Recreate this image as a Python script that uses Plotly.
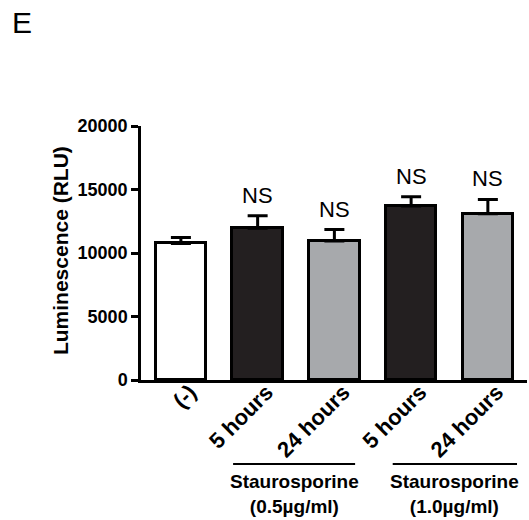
import plotly.graph_objects as go

# Luminescence readings per treatment (mean and upper SEM)
categories = ["(-)", "5 hours", "24 hours", "5 hours", "24 hours"]
means = [10750, 11950, 10950, 13700, 13100]
sem_upper = [480, 980, 900, 720, 1120]
bar_colors = ["#ffffff", "#231f20", "#a7a9ac", "#231f20", "#a7a9ac"]
sig_labels = ["", "NS", "NS", "NS", "NS"]
y_ticks = [0, 5000, 10000, 15000, 20000]

# Treatment groups spanning the bars underneath the axis
groups = [
    {"label": "Staurosporine<br>(0.5µg/ml)", "start": 0.68, "end": 2.27},
    {"label": "Staurosporine<br>(1.0µg/ml)", "start": 2.76, "end": 4.38},
]

FONT = "Liberation Sans, Arial, sans-serif"
xpos = list(range(len(categories)))

fig = go.Figure()
fig.add_trace(go.Bar(
    x=xpos,
    y=means,
    width=0.66,
    marker=dict(color=bar_colors, line=dict(color="#000000", width=3)),
    error_y=dict(type="data", symmetric=False, array=sem_upper,
                 arrayminus=[0] * len(means), color="#000000",
                 thickness=3, width=10),
    showlegend=False,
))

# significance labels above each error bar
for x, m, e, lab in zip(xpos, means, sem_upper, sig_labels):
    if lab:
        fig.add_annotation(x=x, y=m + e, text=lab, showarrow=False,
                           yanchor="bottom", yshift=6,
                           font=dict(family=FONT, size=22, color="#000000"))

# group brackets and labels
for g in groups:
    fig.add_shape(type="line", xref="x", yref="paper",
                  x0=g["start"], x1=g["end"], y0=-0.331, y1=-0.331,
                  line=dict(color="#000000", width=2))
    fig.add_annotation(x=(g["start"] + g["end"]) / 2, xref="x",
                       y=-0.352, yref="paper", yanchor="top",
                       text="<b>" + g["label"] + "</b>", showarrow=False,
                       font=dict(family=FONT, size=19, color="#000000"))

# y-axis title
fig.add_annotation(x=-0.207, xref="paper", y=0.508, yref="paper",
                   text="<b>Luminescence (RLU)</b>", textangle=-90,
                   showarrow=False, xanchor="center", yanchor="middle",
                   font=dict(family=FONT, size=21, color="#000000"))

# panel letter
fig.add_annotation(x=-0.308, xref="paper", y=1.409, yref="paper", text="E",
                   showarrow=False, xanchor="center", yanchor="middle",
                   font=dict(family=FONT, size=30, color="#000000"))

fig.update_layout(
    width=529, height=520,
    margin=dict(l=141, r=2, t=126, b=140),
    paper_bgcolor="#ffffff", plot_bgcolor="#ffffff",
    font=dict(family=FONT, color="#000000"),
    bargap=0,
)
fig.update_xaxes(
    range=[-0.52, 4.51], tickmode="array", tickvals=xpos,
    ticktext=["<b>" + c + "</b>" for c in categories],
    tickangle=-45, tickfont=dict(family=FONT, size=22, color="#000000"),
    ticklabelstandoff=-12, ticklabelshift=9,
    showline=True, linecolor="#000000", linewidth=2.5,
    ticks="", showgrid=False, zeroline=False,
)
fig.update_yaxes(
    range=[0, 20000], tickmode="array", tickvals=y_ticks,
    ticktext=["<b>%d</b>" % v for v in y_ticks],
    tickfont=dict(family=FONT, size=18, color="#000000"),
    showline=True, linecolor="#000000", linewidth=2.5,
    ticks="outside", ticklen=7, tickwidth=2.5, tickcolor="#000000",
    showgrid=False, zeroline=False,
)

fig.write_html("out.html")
